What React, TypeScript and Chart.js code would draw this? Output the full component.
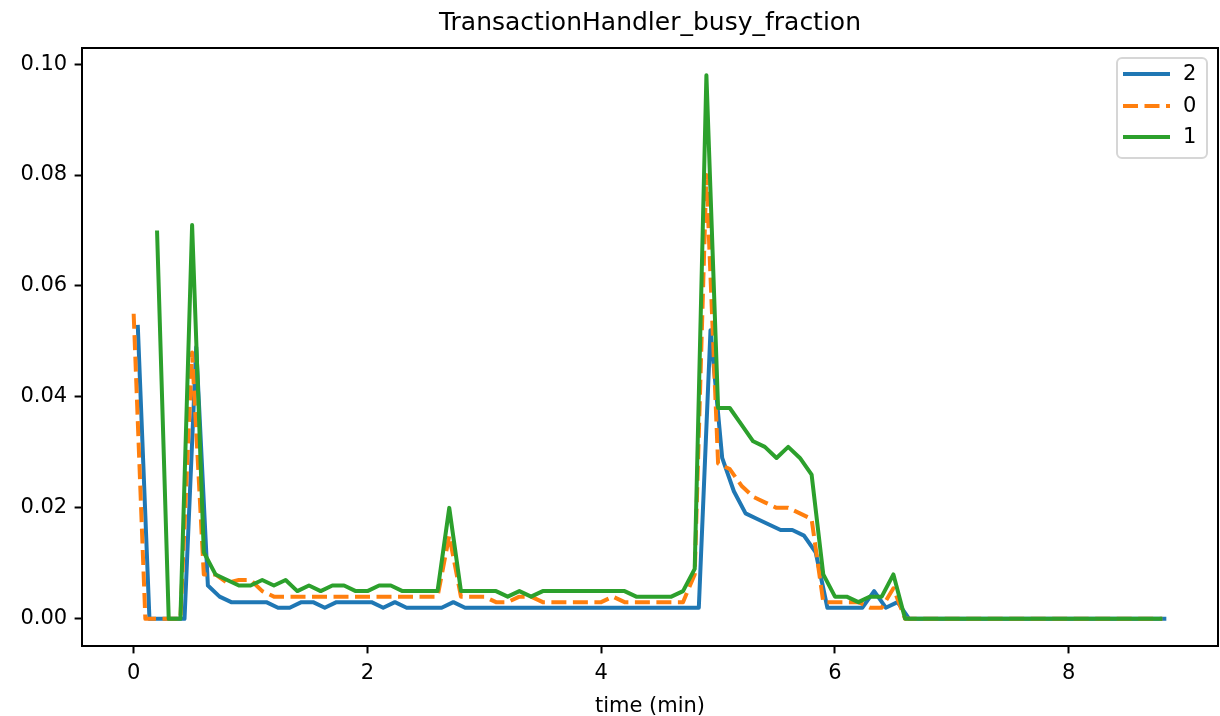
import React, { useEffect, useRef } from "react";
import { Chart, registerables } from "chart.js";

Chart.register(...registerables);

const chartTitle = "TransactionHandler_busy_fraction";
const xAxisLabel = "time (min)";
const seriesNames = ["2", "0", "1"];
const seriesColors = ["#1f77b4", "#ff7f0e", "#2ca02c"];

// sampling of each series (minutes)
const sampleStep = 0.1;
const series2Start = 0.035;
const series0Start = 0;
const series1Start = 0.2;

const series2Values = [
  0.053, 0, 0, 0, 0, 0.049, 0.006, 0.004, 0.003, 0.003,
  0.003, 0.003, 0.002, 0.002, 0.003, 0.003, 0.002, 0.003, 0.003, 0.003,
  0.003, 0.002, 0.003, 0.002, 0.002, 0.002, 0.002, 0.003, 0.002, 0.002,
  0.002, 0.002, 0.002, 0.002, 0.002, 0.002, 0.002, 0.002, 0.002, 0.002,
  0.002, 0.002, 0.002, 0.002, 0.002, 0.002, 0.002, 0.002, 0.002, 0.052,
  0.029, 0.023, 0.019, 0.018, 0.017, 0.016, 0.016, 0.015, 0.012, 0.002,
  0.002, 0.002, 0.002, 0.005, 0.002, 0.003, 0, 0, 0, 0,
  0, 0, 0, 0, 0, 0, 0, 0, 0, 0,
  0, 0, 0, 0, 0, 0, 0, 0, 0,
];

const series0Values = [
  0.055, 0, 0, 0, 0, 0.048, 0.008, 0.008, 0.0065, 0.007,
  0.007, 0.005, 0.004, 0.004, 0.004, 0.004, 0.004, 0.004, 0.004, 0.004,
  0.004, 0.004, 0.004, 0.004, 0.004, 0.004, 0.004, 0.015, 0.004, 0.004,
  0.004, 0.003, 0.003, 0.004, 0.004, 0.003, 0.003, 0.003, 0.003, 0.003,
  0.003, 0.004, 0.003, 0.003, 0.003, 0.003, 0.003, 0.003, 0.008, 0.08,
  0.028, 0.027, 0.024, 0.022, 0.021, 0.02, 0.02, 0.019, 0.018, 0.003,
  0.003, 0.003, 0.003, 0.002, 0.002, 0.0055, 0, 0, 0, 0,
  0, 0, 0, 0, 0, 0, 0, 0, 0, 0,
  0, 0, 0, 0, 0, 0, 0, 0, 0,
];

const series1Values = [
  0.07, 0, 0, 0.071, 0.012, 0.008, 0.007, 0.006, 0.006, 0.007,
  0.006, 0.007, 0.005, 0.006, 0.005, 0.006, 0.006, 0.005, 0.005, 0.006,
  0.006, 0.005, 0.005, 0.005, 0.005, 0.02, 0.005, 0.005, 0.005, 0.005,
  0.004, 0.005, 0.004, 0.005, 0.005, 0.005, 0.005, 0.005, 0.005, 0.005,
  0.005, 0.004, 0.004, 0.004, 0.004, 0.005, 0.009, 0.098, 0.038, 0.038,
  0.035, 0.032, 0.031, 0.029, 0.031, 0.029, 0.026, 0.008, 0.004, 0.004,
  0.003, 0.004, 0.004, 0.008, 0, 0, 0, 0, 0, 0,
  0, 0, 0, 0, 0, 0, 0, 0, 0, 0,
  0, 0, 0, 0, 0, 0, 0,
];

const xTicks = [0, 2, 4, 6, 8];
const yTicks = [0, 0.02, 0.04, 0.06, 0.08, 0.1];
const xMin = -0.442;
const xMax = 9.277;
const yMin = -0.0049;
const yMax = 0.1029;

const FONT = "'DejaVu Sans', sans-serif";

function toPoints(start: number, values: number[]) {
  return values.map((v, i) => ({ x: start + i * sampleStep, y: v }));
}

const framePlugin = {
  id: "mplFrameLegend",
  afterDatasetsDraw(chart: any) {
    const { ctx, chartArea } = chart;
    ctx.save();
    ctx.strokeStyle = "#000";
    ctx.lineWidth = 2;
    ctx.strokeRect(chartArea.left, chartArea.top, chartArea.right - chartArea.left, chartArea.bottom - chartArea.top);
    ctx.restore();
  },
  afterDraw(chart: any) {
    const { ctx, chartArea } = chart;
    const boxW = 90;
    const boxH = 100;
    const bx = chartArea.right - 11 - boxW;
    const by = chartArea.top + 10;
    ctx.save();
    ctx.beginPath();
    const r = 5;
    ctx.moveTo(bx + r, by);
    ctx.lineTo(bx + boxW - r, by);
    ctx.arcTo(bx + boxW, by, bx + boxW, by + r, r);
    ctx.lineTo(bx + boxW, by + boxH - r);
    ctx.arcTo(bx + boxW, by + boxH, bx + boxW - r, by + boxH, r);
    ctx.lineTo(bx + r, by + boxH);
    ctx.arcTo(bx, by + boxH, bx, by + boxH - r, r);
    ctx.lineTo(bx, by + r);
    ctx.arcTo(bx, by, bx + r, by, r);
    ctx.closePath();
    ctx.fillStyle = "rgba(255,255,255,0.8)";
    ctx.fill();
    ctx.strokeStyle = "#d6d6d6";
    ctx.lineWidth = 2;
    ctx.stroke();
    const rowsY = [by + 16, by + 48, by + 79];
    chart.data.datasets.forEach((ds: any, i: number) => {
      const y = rowsY[i];
      ctx.beginPath();
      ctx.setLineDash(ds.borderDash || []);
      ctx.strokeStyle = ds.borderColor;
      ctx.lineWidth = ds.borderWidth;
      ctx.moveTo(bx + 6, y);
      ctx.lineTo(bx + 53, y);
      ctx.stroke();
      ctx.setLineDash([]);
      ctx.fillStyle = "#000";
      ctx.font = `21px ${FONT}`;
      ctx.textAlign = "left";
      ctx.textBaseline = "middle";
      ctx.fillText(ds.label, bx + 66, y + 1);
    });
    ctx.restore();
  },
};

export default function App() {
  const canvasRef = useRef<HTMLCanvasElement | null>(null);

  useEffect(() => {
    if (!canvasRef.current) return;
    const chart = new Chart(canvasRef.current, {
      type: "line",
      data: {
        datasets: [
          {
            label: seriesNames[0],
            data: toPoints(series2Start, series2Values),
            borderColor: seriesColors[0],
            backgroundColor: seriesColors[0],
            borderWidth: 4,
            pointRadius: 0,
            borderJoinStyle: "round",
            order: 2,
          },
          {
            label: seriesNames[1],
            data: toPoints(series0Start, series0Values),
            borderColor: seriesColors[1],
            backgroundColor: seriesColors[1],
            borderWidth: 4,
            borderDash: [15, 6.5],
            pointRadius: 0,
            borderJoinStyle: "round",
            order: 1,
          },
          {
            label: seriesNames[2],
            data: toPoints(series1Start, series1Values),
            borderColor: seriesColors[2],
            backgroundColor: seriesColors[2],
            borderWidth: 4,
            pointRadius: 0,
            borderJoinStyle: "round",
            order: 0,
          },
        ] as any,
      },
      options: {
        animation: false,
        responsive: false,
        devicePixelRatio: 1,
        layout: { padding: { left: 0, right: 2, top: 0, bottom: 0 } },
        plugins: {
          legend: { display: false },
          tooltip: { enabled: false },
          title: {
            display: true,
            text: chartTitle,
            fullSize: false,
            color: "#000",
            font: { family: FONT, size: 25, weight: "normal", lineHeight: 1.2 },
            padding: { top: 8, bottom: 10 },
          },
        },
        scales: {
          x: {
            type: "linear",
            min: xMin,
            max: xMax,
            afterBuildTicks: (scale: any) => {
              scale.ticks = xTicks.map((value) => ({ value }));
            },
            afterFit: (scale: any) => {
              scale.height = 70;
            },
            grid: {
              display: true,
              drawOnChartArea: false,
              drawTicks: true,
              tickLength: 7.4,
              tickWidth: 2,
              tickColor: "#000",
            },
            border: { display: false },
            ticks: {
              color: "#000",
              font: { family: FONT, size: 21 },
              padding: 8,
              maxRotation: 0,
              autoSkip: false,
              callback: (v: any) => String(v),
            },
            title: {
              display: true,
              text: xAxisLabel,
              color: "#000",
              font: { family: FONT, size: 21, lineHeight: 0.9 },
              padding: { top: 0, bottom: 0 },
            },
          },
          y: {
            type: "linear",
            min: yMin,
            max: yMax,
            afterBuildTicks: (scale: any) => {
              scale.ticks = yTicks.map((value) => ({ value }));
            },
            afterFit: (scale: any) => {
              scale.width = 82;
            },
            grid: {
              display: true,
              drawOnChartArea: false,
              drawTicks: true,
              tickLength: 7.4,
              tickWidth: 2,
              tickColor: "#000",
            },
            border: { display: false },
            ticks: {
              color: "#000",
              font: { family: FONT, size: 21 },
              padding: 7.4,
              autoSkip: false,
              callback: (v: any) => Number(v).toFixed(2),
            },
          },
        },
      } as any,
      plugins: [framePlugin],
    });
    return () => chart.destroy();
  }, []);

  return (
    <div style={{ position: "absolute", left: 0, top: 0, width: 1220, height: 716, background: "#fff" }}>
      <canvas ref={canvasRef} width={1220} height={716} style={{ display: "block" }} />
    </div>
  );
}
